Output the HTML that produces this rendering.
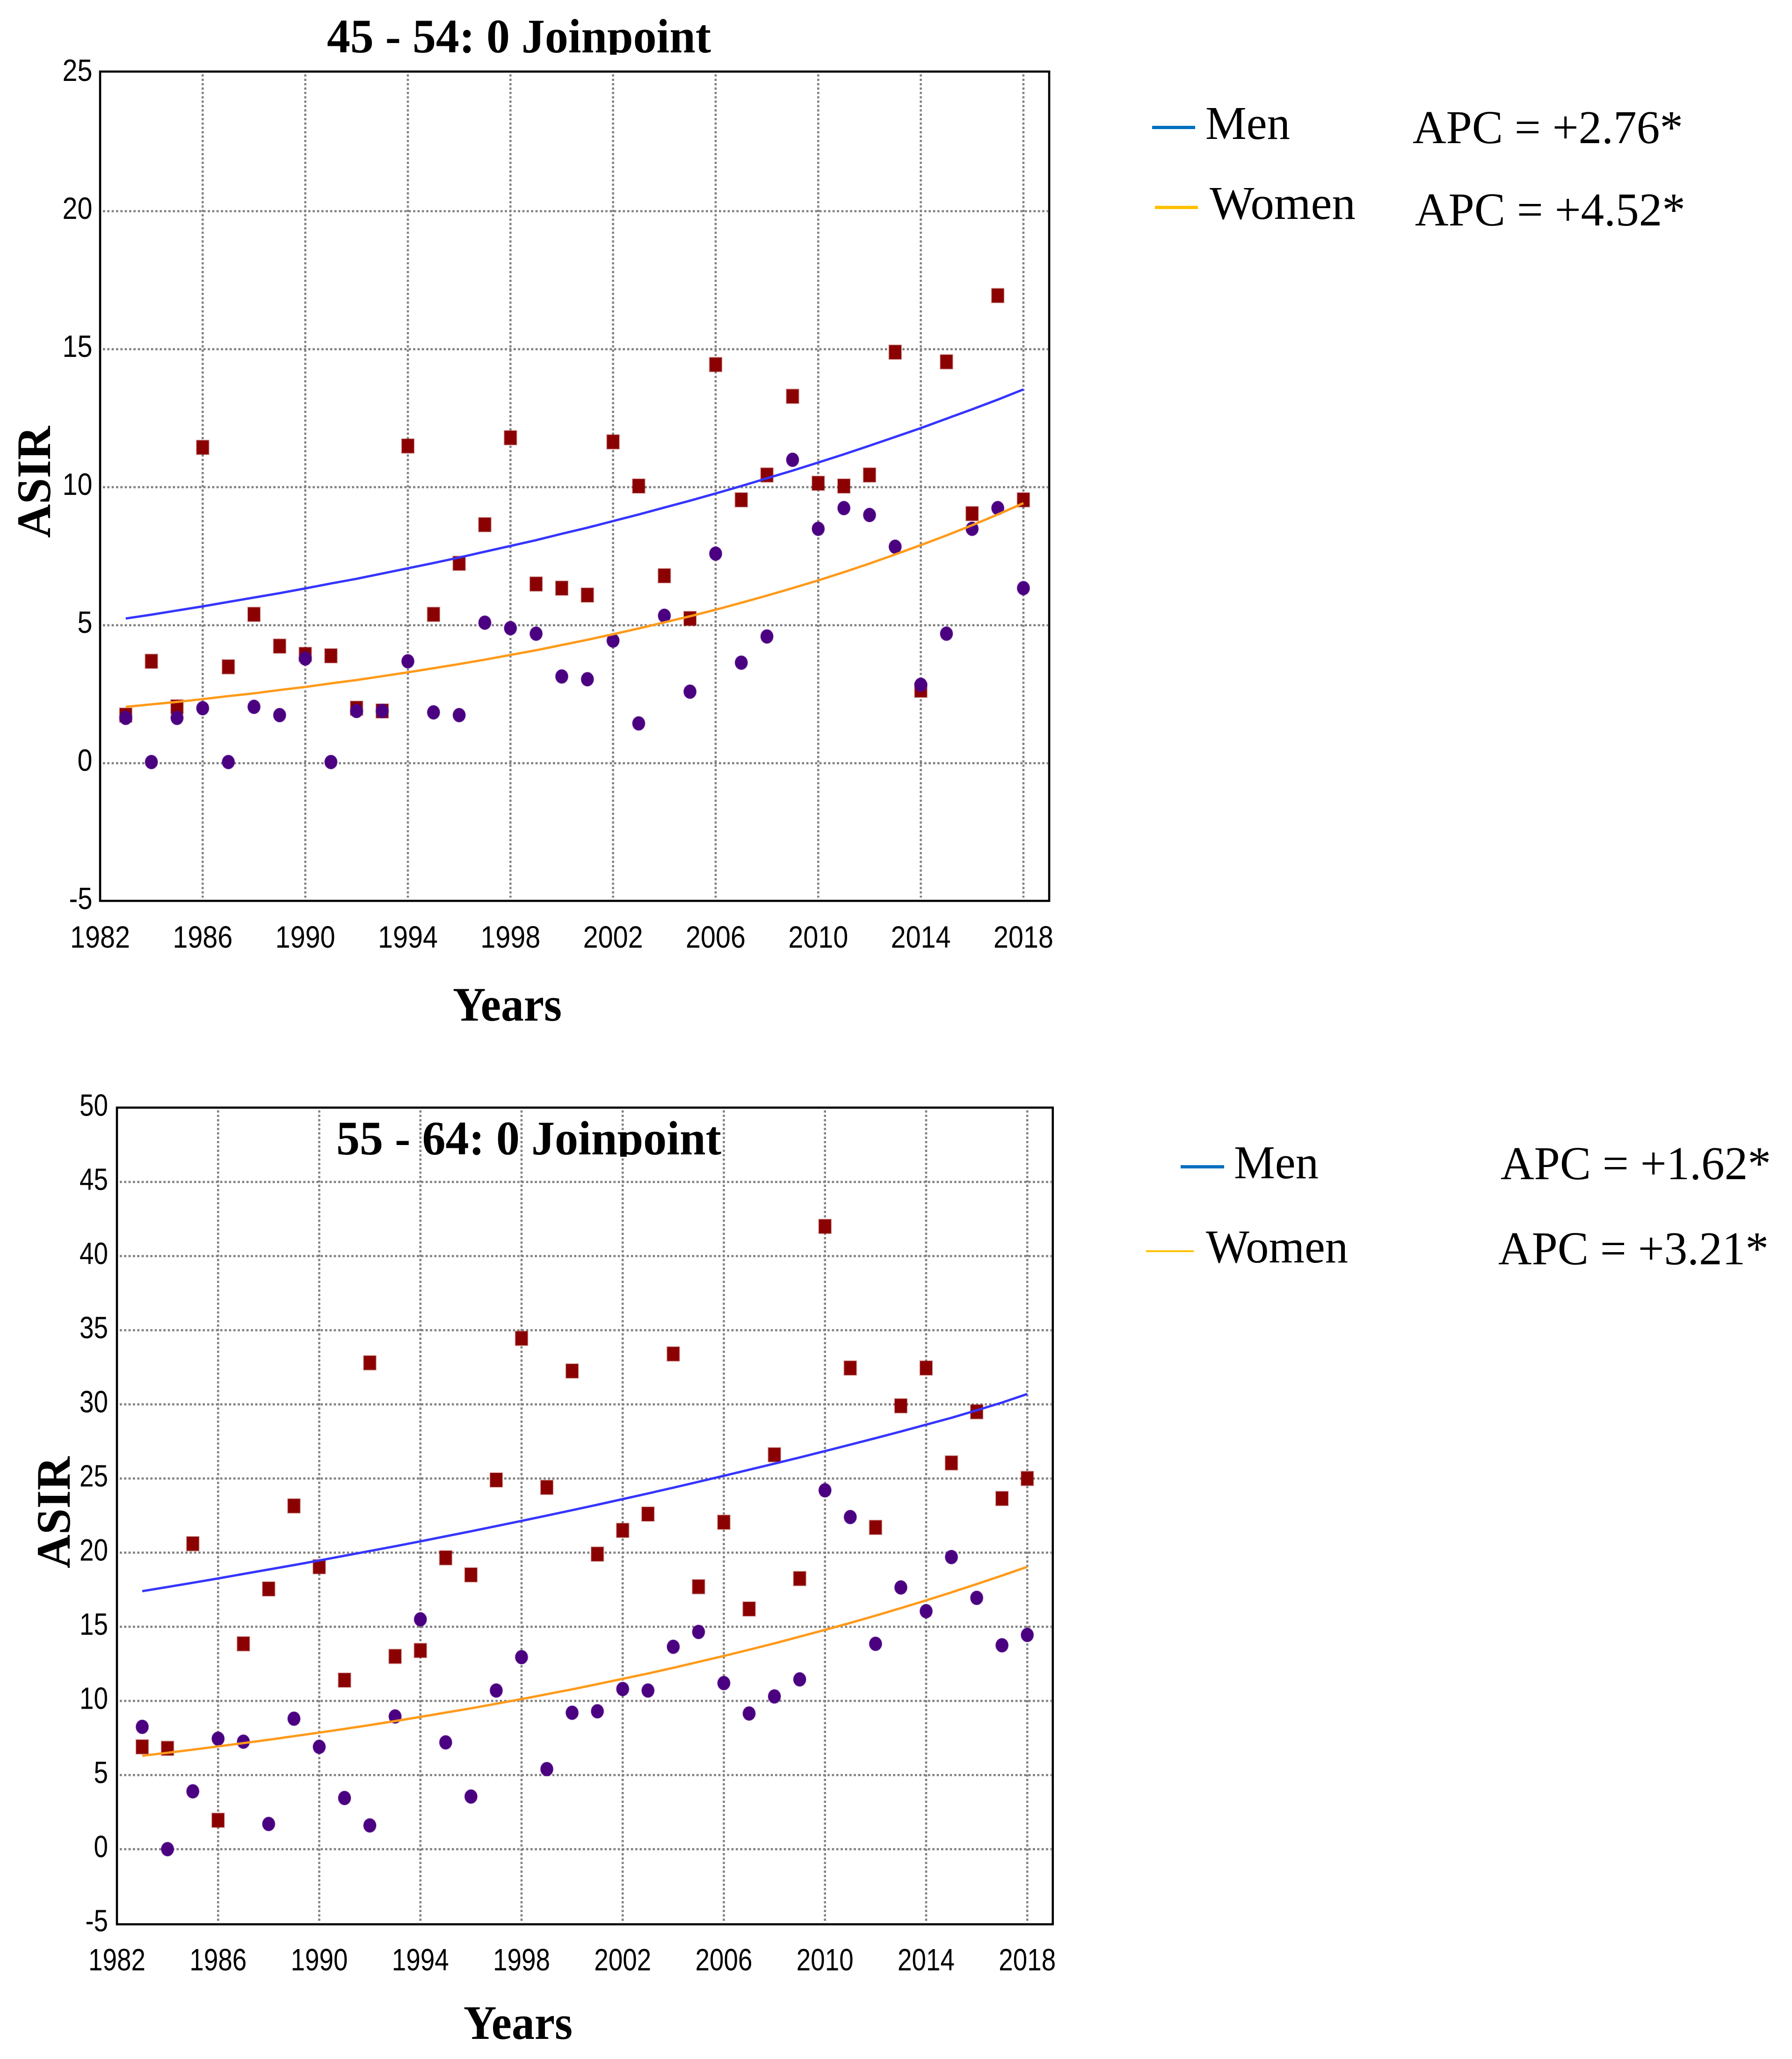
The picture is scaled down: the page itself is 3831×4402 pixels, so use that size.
<!DOCTYPE html>
<html lang="en">
<head>
<meta charset="utf-8">
<title>ASIR joinpoint trends</title>
<style>
html,body{margin:0;padding:0;background:#fff;width:3831px;height:4402px;overflow:hidden}
svg{display:block}
.tick{font-family:"Liberation Sans",sans-serif;font-size:66px;fill:#000}
.serif{font-family:"Liberation Serif",serif;font-size:101px;fill:#000}
.bold{font-family:"Liberation Serif",serif;font-size:103px;font-weight:bold;fill:#000}
</style>
</head>
<body>
<svg id="figure" xmlns="http://www.w3.org/2000/svg" width="3831" height="4402" viewBox="0 0 3831 4402">
  <defs>
    <clipPath id="clip-title-1"><rect x="650" y="0" width="950" height="117"/></clipPath>
    <clipPath id="clip-title-2"><rect x="650" y="2380" width="950" height="93"/></clipPath>
  </defs>
  <rect x="0" y="0" width="3831" height="4402" fill="#fff"/>
  <g id="chart-a"></g>
  <g id="chart-b"></g>

  <text class="bold" x="699" y="112" textLength="821" lengthAdjust="spacingAndGlyphs" clip-path="url(#clip-title-1)">45 - 54: 0 Joinpoint</text>
  <text class="bold" x="968" y="2182" textLength="233" lengthAdjust="spacingAndGlyphs">Years</text>
  <text class="bold" transform="translate(107 1150) rotate(-90)" x="0" y="0" textLength="239" lengthAdjust="spacingAndGlyphs">ASIR</text>

  <text class="bold" x="719" y="2468" textLength="823" lengthAdjust="spacingAndGlyphs" clip-path="url(#clip-title-2)">55 - 64: 0 Joinpoint</text>
  <text class="bold" x="991" y="4359" textLength="233" lengthAdjust="spacingAndGlyphs">Years</text>
  <text class="bold" transform="translate(149 3353) rotate(-90)" x="0" y="0" textLength="239" lengthAdjust="spacingAndGlyphs">ASIR</text>

  <g>
    <rect x="2463" y="269" width="92" height="7" fill="#0070c0"/>
    <text class="serif" x="2577" y="297" textLength="181" lengthAdjust="spacingAndGlyphs">Men</text>
    <text class="serif" x="3020" y="306" textLength="578" lengthAdjust="spacingAndGlyphs">APC = +2.76*</text>
    <rect x="2469" y="440" width="92" height="7" fill="#ffc000"/>
    <text class="serif" x="2586" y="468" textLength="312" lengthAdjust="spacingAndGlyphs">Women</text>
    <text class="serif" x="3025" y="482" textLength="578" lengthAdjust="spacingAndGlyphs">APC = +4.52*</text>
  </g>
  <g>
    <rect x="2524" y="2491" width="93" height="7" fill="#0070c0"/>
    <text class="serif" x="2638" y="2519" textLength="181" lengthAdjust="spacingAndGlyphs">Men</text>
    <text class="serif" x="3208" y="2521" textLength="578" lengthAdjust="spacingAndGlyphs">APC = +1.62*</text>
    <rect x="2450" y="2673" width="102" height="4" fill="#ffc000"/>
    <text class="serif" x="2578" y="2699" textLength="304" lengthAdjust="spacingAndGlyphs">Women</text>
    <text class="serif" x="3203" y="2703" textLength="578" lengthAdjust="spacingAndGlyphs">APC = +3.21*</text>
  </g>
</svg>
<script>
const years = [1983,1984,1985,1986,1987,1988,1989,1990,1991,1992,1993,1994,1995,1996,1997,1998,1999,2000,2001,2002,2003,2004,2005,2006,2007,2008,2009,2010,2011,2012,2013,2014,2015,2016,2017,2018];
const xTickLabels = [1982,1986,1990,1994,1998,2002,2006,2010,2014,2018];

const yTicksA = [-5,0,5,10,15,20,25];
const menPointsA = [1.7,3.65,2.0,11.4,3.45,5.35,4.2,3.9,3.85,1.95,1.85,11.45,5.35,7.2,8.6,11.75,6.45,6.3,6.05,11.6,10,6.75,5.2,14.4,9.5,10.4,13.25,10.1,10,10.4,14.85,2.6,14.5,9.0,16.9,9.5];
const womenPointsA = [1.6,0,1.6,1.95,0,2.0,1.7,3.75,0,1.85,1.85,3.65,1.8,1.7,5.05,4.85,4.65,3.1,3.0,4.4,1.4,5.3,2.55,7.55,3.6,4.55,10.95,8.45,9.2,8.95,7.8,2.8,4.65,8.45,9.2,6.3];
const menFitA = [5.2,5.34,5.49,5.64,5.8,5.96,6.12,6.29,6.47,6.64,6.83,7.02,7.21,7.41,7.62,7.83,8.04,8.27,8.49,8.73,8.97,9.22,9.47,9.73,10.0,10.28,10.56,10.85,11.15,11.46,11.78,12.1,12.44,12.78,13.13,13.5];
const womenFitA = [2.0,2.09,2.18,2.28,2.39,2.49,2.61,2.72,2.85,2.97,3.11,3.25,3.4,3.55,3.71,3.88,4.05,4.24,4.43,4.63,4.84,5.06,5.28,5.52,5.77,6.03,6.3,6.58,6.88,7.19,7.52,7.86,8.21,8.58,8.97,9.38];

const yTicksB = [-5,0,5,10,15,20,25,30,35,40,45,50];
const menPointsB = [6.9,6.8,20.6,1.95,13.85,17.55,23.15,19.05,11.4,32.8,13,13.4,19.65,18.5,24.9,34.45,24.4,32.25,19.9,21.5,22.6,33.4,17.7,22.05,16.2,26.6,18.25,42,32.45,21.7,29.9,32.45,26.05,29.5,23.65,25];
const womenPointsB = [8.25,0,3.9,7.45,7.25,1.7,8.8,6.9,3.45,1.6,8.95,15.5,7.2,3.55,10.7,12.95,5.4,9.2,9.3,10.8,10.7,13.65,14.65,11.2,9.15,10.3,11.45,24.2,22.4,13.85,17.65,16.05,19.7,16.95,13.75,14.45];
const menFitB = [17.4,17.68,17.97,18.26,18.56,18.86,19.16,19.47,19.79,20.11,20.43,20.76,21.1,21.44,21.79,22.14,22.5,22.86,23.23,23.61,23.99,24.38,24.78,25.18,25.59,26.0,26.42,26.85,27.28,27.72,28.17,28.63,29.09,29.6,30.12,30.7];
const womenFitB = [6.3,6.5,6.71,6.93,7.15,7.38,7.62,7.86,8.11,8.37,8.64,8.92,9.21,9.5,9.81,10.12,10.45,10.78,11.13,11.49,11.85,12.23,12.63,13.03,13.45,13.88,14.33,14.79,15.26,15.75,16.26,16.78,17.32,17.88,18.45,19.04];

const SVGNS = 'http://www.w3.org/2000/svg';
function make(parent, tag, attrs) {
  const el = document.createElementNS(SVGNS, tag);
  for (const k in attrs) el.setAttribute(k, attrs[k]);
  parent.appendChild(el);
  return el;
}

function drawChart(root, cfg, yTicks, menPts, womenPts, menFit, womenFit) {
  const xScale = y => cfg.x0 + cfg.xPerYear * (y - 1982);
  const yScale = v => cfg.y0 - cfg.yPerUnit * v;
  const markY = v => yScale(v) + cfg.markDy;
  const yMax = yTicks[yTicks.length - 1];
  const yMin = yTicks[0];

  yTicks.forEach(t => {
    if (t === yMax || t === yMin) return;
    const line = make(root, 'line', {x1: cfg.left + 6, x2: cfg.right - 3, y1: yScale(t), y2: yScale(t), stroke: '#808080', 'stroke-width': 4.6, 'stroke-dasharray': '4.67 4.67'});
    
    
  });
  xTickLabels.forEach(t => {
    if (t === 1982) return;
    const line = make(root, 'line', {x1: xScale(t), x2: xScale(t), y1: cfg.top + 6, y2: cfg.bottom - 7, stroke: '#808080', 'stroke-width': 4.6, 'stroke-dasharray': '4.67 4.67'});
    
    
  });

  yTicks.forEach(t => {
    const s = String(t);
    const width = s.startsWith('-') ? cfg.digitW + 18 : s.length * cfg.digitW;
    const label = make(root, 'text', {class: 'tick', x: cfg.yLabelRight, y: yScale(t) + cfg.yLabelDy, 'text-anchor': 'end', textLength: width, lengthAdjust: 'spacingAndGlyphs'});
    label.textContent = s;
    
    
  });
  xTickLabels.forEach(t => {
    const label = make(root, 'text', {class: 'tick', x: xScale(t), y: cfg.xLabelY, 'text-anchor': 'middle', textLength: 4 * cfg.digitW, lengthAdjust: 'spacingAndGlyphs'});
    label.textContent = t;
    
    
  });

  years.forEach((yr, i) => {
    const sq = make(root, 'rect', {x: xScale(yr) - 13, y: markY(menPts[i]) - 15, width: 26, height: 30, fill: '#8b0000', stroke: '#8b0000', 'stroke-opacity': 0.3, 'stroke-width': 3});
    
    
  });
  years.forEach((yr, i) => {
    const dot = make(root, 'ellipse', {cx: xScale(yr), cy: markY(womenPts[i]), rx: 13.5, ry: 15, fill: '#4b0082', stroke: '#4b0082', 'stroke-opacity': 0.25, 'stroke-width': 2});
    
    
  });

  const toPath = arr => years.map((yr, i) => xScale(yr).toFixed(1) + ',' + markY(arr[i]).toFixed(1)).join(' ');
  const menLine = make(root, 'polyline', {points: toPath(menFit), fill: 'none', stroke: '#3535ff', 'stroke-width': 5});
  
  
  const womenLine = make(root, 'polyline', {points: toPath(womenFit), fill: 'none', stroke: '#ff9a1a', 'stroke-width': 5});
  
  

  const frame = make(root, 'rect', {x: cfg.left, y: cfg.top, width: cfg.right - cfg.left, height: cfg.bottom - cfg.top, fill: 'none', stroke: '#000', 'stroke-width': 4.6});
  
  
}

drawChart(document.getElementById('chart-a'),
  {x0: 214, xPerYear: 54.83, y0: 1631.7, yPerUnit: 59.01, markDy: -2.5, left: 214, right: 2243, top: 153, bottom: 1926, yLabelRight: 197.5, yLabelDy: 16.5, xLabelY: 2026, digitW: 32},
  yTicksA, menPointsA, womenPointsA, menFitA, womenFitA);
drawChart(document.getElementById('chart-b'),
  {x0: 250, xPerYear: 54.06, y0: 3953.4, yPerUnit: 31.7, markDy: 0, left: 250, right: 2250.7, top: 2368, bottom: 4114, yLabelRight: 231, yLabelDy: 17, xLabelY: 4212.6, digitW: 30.5},
  yTicksB, menPointsB, womenPointsB, menFitB, womenFitB);
</script>
</body>
</html>
